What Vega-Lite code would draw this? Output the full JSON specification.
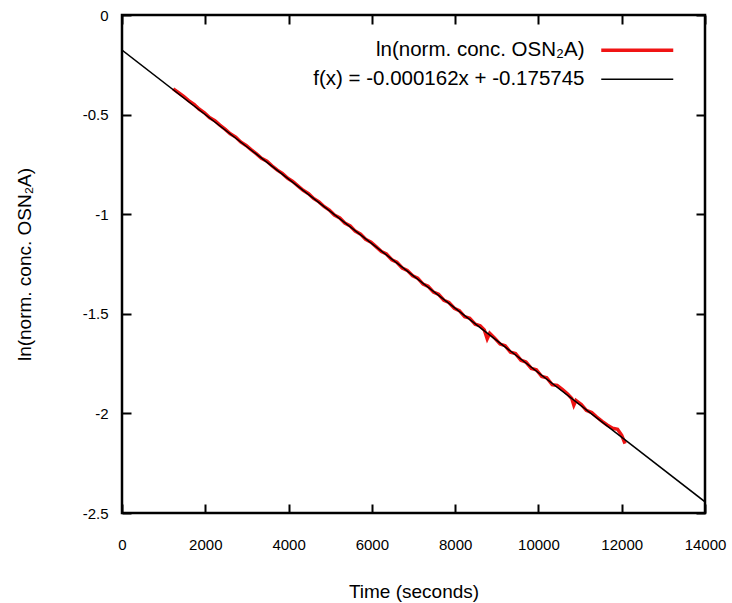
{
  "$schema": "https://vega.github.io/schema/vega-lite/v6.json",
  "width": 583,
  "height": 498,
  "autosize": "none",
  "padding": {"left": 122, "top": 15, "right": 27, "bottom": 90},
  "background": "white",
  "config": {
    "view": {"stroke": "black", "strokeWidth": 2.5},
    "font": "Liberation Sans",
    "axis": {
      "domain": false,
      "ticks": false,
      "labelFlush": false,
      "labelColor": "black",
      "labelFont": "Liberation Sans",
      "labelFontSize": 15,
      "titleFont": "Liberation Sans",
      "titleFontSize": 19,
      "titleFontWeight": "normal",
      "titleColor": "black"
    },
    "legend": {
      "orient": "none",
      "legendX": 505,
      "legendY": 25,
      "padding": 0,
      "labelFont": "Liberation Sans",
      "labelFontSize": 20.5,
      "labelColor": "black",
      "labelAlign": "right",
      "labelOffset": -63,
      "labelLimit": 400,
      "symbolType": "M-8,0H8",
      "symbolSize": 81,
      "rowPadding": 8
    }
  },
  "datasets": {
    "obs": [
      {"t": 1230, "v": -0.371}, {"t": 1350, "v": -0.389}, {"t": 1480, "v": -0.409}, {"t": 1600, "v": -0.430},
      {"t": 1730, "v": -0.449}, {"t": 1850, "v": -0.472}, {"t": 1980, "v": -0.491}, {"t": 2100, "v": -0.515},
      {"t": 2230, "v": -0.531}, {"t": 2350, "v": -0.553}, {"t": 2480, "v": -0.574}, {"t": 2600, "v": -0.596},
      {"t": 2730, "v": -0.613}, {"t": 2850, "v": -0.637}, {"t": 2980, "v": -0.655}, {"t": 3100, "v": -0.676},
      {"t": 3230, "v": -0.697}, {"t": 3350, "v": -0.719}, {"t": 3480, "v": -0.734}, {"t": 3600, "v": -0.757},
      {"t": 3730, "v": -0.779}, {"t": 3850, "v": -0.795}, {"t": 3980, "v": -0.820}, {"t": 4100, "v": -0.836},
      {"t": 4230, "v": -0.859}, {"t": 4350, "v": -0.880}, {"t": 4480, "v": -0.897}, {"t": 4600, "v": -0.921},
      {"t": 4730, "v": -0.938}, {"t": 4850, "v": -0.961}, {"t": 4980, "v": -0.979}, {"t": 5100, "v": -1.004},
      {"t": 5230, "v": -1.019}, {"t": 5350, "v": -1.044}, {"t": 5480, "v": -1.059}, {"t": 5600, "v": -1.085},
      {"t": 5730, "v": -1.100}, {"t": 5850, "v": -1.126}, {"t": 5980, "v": -1.141}, {"t": 6100, "v": -1.163},
      {"t": 6230, "v": -1.188}, {"t": 6350, "v": -1.200}, {"t": 6480, "v": -1.229}, {"t": 6600, "v": -1.241},
      {"t": 6730, "v": -1.270}, {"t": 6850, "v": -1.282}, {"t": 6980, "v": -1.309}, {"t": 7100, "v": -1.321},
      {"t": 7230, "v": -1.351}, {"t": 7350, "v": -1.362}, {"t": 7480, "v": -1.391}, {"t": 7600, "v": -1.402},
      {"t": 7730, "v": -1.432}, {"t": 7850, "v": -1.443}, {"t": 7980, "v": -1.472}, {"t": 8100, "v": -1.484},
      {"t": 8230, "v": -1.515}, {"t": 8350, "v": -1.522}, {"t": 8480, "v": -1.552}, {"t": 8600, "v": -1.560},
      {"t": 8700, "v": -1.581}, {"t": 8770, "v": -1.625}, {"t": 8830, "v": -1.598}, {"t": 8950, "v": -1.622},
      {"t": 9080, "v": -1.652}, {"t": 9200, "v": -1.660}, {"t": 9330, "v": -1.693}, {"t": 9450, "v": -1.700},
      {"t": 9580, "v": -1.733}, {"t": 9700, "v": -1.742}, {"t": 9830, "v": -1.774}, {"t": 9950, "v": -1.781},
      {"t": 10080, "v": -1.815}, {"t": 10200, "v": -1.821}, {"t": 10330, "v": -1.856}, {"t": 10450, "v": -1.860},
      {"t": 10580, "v": -1.880}, {"t": 10700, "v": -1.902}, {"t": 10800, "v": -1.925}, {"t": 10850, "v": -1.958},
      {"t": 10900, "v": -1.935}, {"t": 11030, "v": -1.955}, {"t": 11150, "v": -1.985}, {"t": 11280, "v": -1.996},
      {"t": 11400, "v": -2.018}, {"t": 11530, "v": -2.040}, {"t": 11650, "v": -2.058}, {"t": 11780, "v": -2.074},
      {"t": 11900, "v": -2.080}, {"t": 12000, "v": -2.110}, {"t": 12080, "v": -2.152}
    ],
    "fit": [
      {"t": 0, "v": -0.175745},
      {"t": 14000, "v": -2.443745}
    ]
  },
  "layer": [
    {
      "data": {"name": "obs"},
      "mark": {"type": "line", "strokeWidth": 3.5, "clip": true},
      "encoding": {
        "x": {
          "field": "t", "type": "quantitative",
          "scale": {"domain": [0, 14000], "nice": false, "zero": false},
          "axis": {
            "orient": "bottom",
            "values": [0, 2000, 4000, 6000, 8000, 10000, 12000, 14000],
            "grid": true, "gridColor": "black", "gridWidth": 2, "gridOpacity": 1,
            "gridDash": [9, 480, 9, 1000],
            "labelExpr": "datum.value + ''",
            "labelPadding": 24,
            "title": "Time (seconds)",
            "titlePadding": 30
          }
        },
        "y": {
          "field": "v", "type": "quantitative",
          "scale": {"domain": [-2.5, 0], "nice": false, "zero": false},
          "axis": {
            "orient": "left",
            "values": [-2.5, -2, -1.5, -1, -0.5, 0],
            "grid": true, "gridColor": "black", "gridWidth": 2, "gridOpacity": 1,
            "gridDash": [9, 565, 9, 1000],
            "labelExpr": "datum.value + ''",
            "labelPadding": 14,
            "title": "ln(norm. conc. OSN₂A)",
            "titlePadding": 48
          }
        },
        "color": {
          "datum": "ln(norm. conc. OSN₂A)",
          "scale": {
            "domain": ["ln(norm. conc. OSN₂A)", "f(x) = -0.000162x + -0.175745"],
            "range": ["#f01414", "black"]
          },
          "legend": {
            "title": null,
            "encode": {
              "symbols": {"update": {"strokeWidth": {"signal": "datum.index == 0 ? 3.5 : 1.5"}}}
            }
          }
        }
      }
    },
    {
      "data": {"name": "fit"},
      "mark": {"type": "line", "strokeWidth": 1.5, "clip": true},
      "encoding": {
        "x": {"field": "t", "type": "quantitative"},
        "y": {"field": "v", "type": "quantitative"},
        "color": {"datum": "f(x) = -0.000162x + -0.175745"}
      }
    }
  ]
}
